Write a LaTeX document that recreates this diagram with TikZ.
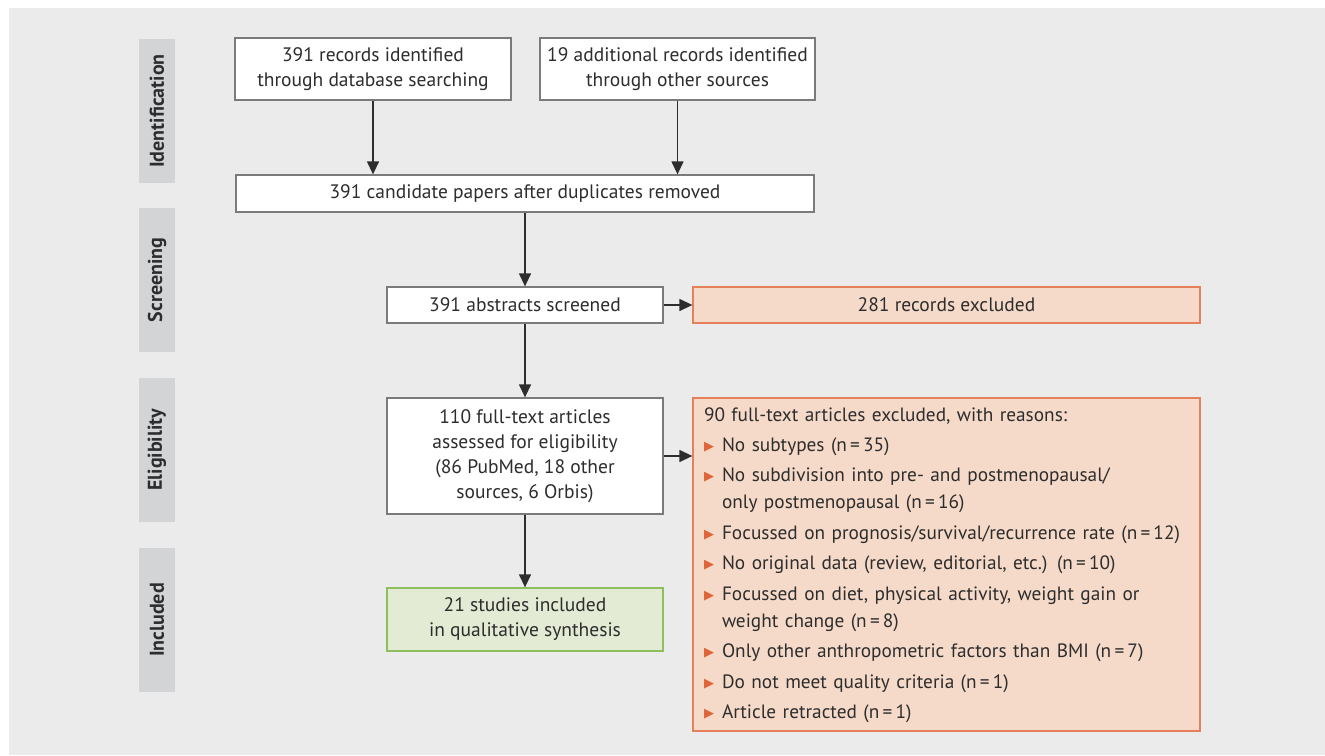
\documentclass[tikz,border=0pt]{standalone}
\usepackage{fontspec}
\setmainfont{PT Sans}
\newfontfamily\symfont{DejaVu Sans}
\usetikzlibrary{arrows.meta}
\definecolor{panel}{HTML}{EAEBEA}
\definecolor{phasegray}{HTML}{D3D4D5}
\definecolor{boxline}{HTML}{7B7B7B}
\definecolor{exclfill}{HTML}{F6DAC9}
\definecolor{excldraw}{HTML}{E5805A}
\definecolor{inclfill}{HTML}{E3EBD4}
\definecolor{incldraw}{HTML}{8FBE5E}
\definecolor{bulletc}{HTML}{E0643A}
\definecolor{ink}{HTML}{2D2D2D}
\tikzset{>={Triangle[length=13pt,width=12pt]}}
\tikzset{%
    box/.style={draw=boxline, fill=white, line width=1.3pt, align=center,
        inner sep=0pt, text=ink, font=\fontsize{19.5}{25}\selectfont},
    exclbox/.style={box, draw=excldraw, fill=exclfill},
    inclbox/.style={box, draw=incldraw, fill=inclfill},
    phase/.style={fill=phasegray, rotate=90, minimum width=144pt,
        minimum height=36pt, inner sep=0pt, text=ink,
        font=\fontsize{20}{20}\selectfont\bfseries},
    flow/.style={->, line width=1.3pt, draw=ink}
}
\newcommand{\bul}{\raisebox{1pt}{\color{bulletc}\symfont\fontsize{13}{13}\selectfont ▶}}

\begin{document}
\begin{tikzpicture}[x=1pt,y=-1pt]
\useasboundingbox (0,0) rectangle (1325,755);
\fill[panel] (9,8) rectangle (1325,755);
% phases
\node[phase] (ident) at (157,111) {Identification};
\node[phase] (screen) at (157,280) {Screening};
\node[phase] (elig) at (157,450) {Eligibility};
\node[phase] (incl) at (157,620) {Included};
% boxes
\node[box, minimum width=276pt, minimum height=62pt] (db) at (373,69)
    {391 records identified\\through database searching};
\node[box, minimum width=275pt, minimum height=62pt] (other) at (677.5,69)
    {19 additional records identified\\through other sources};
\node[box, minimum width=578pt, minimum height=37pt] (dup) at (525,193.5)
    {391 candidate papers after duplicates removed};
\node[box, minimum width=276pt, minimum height=36pt] (abs) at (525,305)
    {391 abstracts screened};
\node[exclbox, minimum width=507pt, minimum height=36pt] (recexcl) at (946.5,305)
    {281 records excluded};
\node[box, minimum width=276pt, minimum height=116pt] (full) at (525,456)
    {110 full-text articles\\assessed for eligibility\\(86 PubMed, 18 other\\sources, 6 Orbis)};
\node[inclbox, minimum width=276pt, minimum height=63pt] (studies) at (525,619.5)
    {21 studies included\\in qualitative synthesis};
\node[exclbox, minimum width=507pt, minimum height=333pt, inner xsep=11pt,
    text width=485pt, align=left, font=\fontsize{19.3}{27}\selectfont] (fullexcl) at (946.5,564.5)
    {\begin{tabular}{@{}l@{\hspace{8pt}}l@{}}
    \multicolumn{2}{@{}l}{90 full-text articles excluded, with reasons:}\\[3pt]
    \bul & No subtypes (n\,=\,35)\\[3.5pt]
    \bul & No subdivision into pre- and postmenopausal/\\
         & only postmenopausal (n\,=\,16)\\[3.5pt]
    \bul & Focussed on prognosis/survival/recurrence rate (n\,=\,12)\\[3.5pt]
    \bul & No original data (review, editorial, etc.) (n\,=\,10)\\[3.5pt]
    \bul & Focussed on diet, physical activity, weight gain or\\
         & weight change (n\,=\,8)\\[3.5pt]
    \bul & Only other anthropometric factors than BMI (n\,=\,7)\\[3.5pt]
    \bul & Do not meet quality criteria (n\,=\,1)\\[3.5pt]
    \bul & Article retracted (n\,=\,1)
    \end{tabular}};
% arrows
\draw[flow] (db) -- (db |- dup.north);
\draw[flow] (other) -- (other |- dup.north);
\draw[flow] (dup) -- (abs);
\draw[flow] (abs) -- (recexcl);
\draw[flow] (abs) -- (full);
\draw[flow] (full.east) -- (full.east -| fullexcl.west);
\draw[flow] (full) -- (studies);
\end{tikzpicture}
\end{document}
